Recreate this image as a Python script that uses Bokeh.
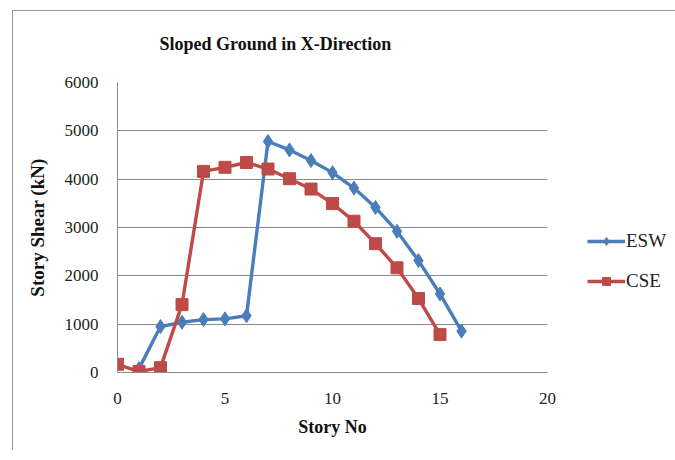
from bokeh.plotting import figure
from bokeh.models import Legend, LegendItem, Range1d, FixedTicker
from bokeh.embed import file_html
from bokeh.resources import INLINE

# ---- data ----
story_esw = list(range(1, 17))
shear_esw = [80, 950, 1040, 1095, 1110, 1175, 4780, 4605, 4385, 4135,
             3815, 3415, 2920, 2315, 1625, 855]
story_cse = list(range(0, 16))
shear_cse = [170, 20, 100, 1405, 4160, 4245, 4345, 4210, 4010, 3795,
             3495, 3130, 2665, 2165, 1530, 785]
x_ticks = [0, 5, 10, 15, 20]
y_ticks = [0, 1000, 2000, 3000, 4000, 5000, 6000]

FONT = "Liberation Serif"
BLUE = "#4A7EBB"
RED = "#BE4B48"
GRID = "#8C8C8C"

p = figure(
    width=651, height=449,
    frame_width=430, frame_height=290,
    min_border_left=105, min_border_right=116,
    min_border_top=81, min_border_bottom=78,
    x_range=Range1d(0, 20), y_range=Range1d(0, 6000),
    output_backend="svg", toolbar_location=None,
    title="Sloped Ground  in X-Direction",
)
p.margin = (1, 0, 0, 12)
# chart-area border (top and left edges), drawn behind a transparent canvas border
p.styles = {
    "background": "linear-gradient(#9a9a9a,#9a9a9a) 0 9px / 100% 1px no-repeat, "
                  "linear-gradient(#9a9a9a,#9a9a9a) 0 9px / 1px 100% no-repeat, white",
}

p.background_fill_color = "white"
p.border_fill_alpha = 0
p.outline_line_color = None

# title
p.title.text_font = FONT
p.title.text_font_style = "bold"
p.title.text_font_size = "18px"
p.title.text_color = "#111111"
p.title.align = "left"
p.title.offset = 42
p.title.standoff = 57

# axes
for ax in (p.xaxis[0], p.yaxis[0]):
    ax.major_label_text_font = FONT
    ax.major_label_text_font_size = "17px"
    ax.major_label_text_color = "#222222"
    ax.axis_label_text_font = FONT
    ax.axis_label_text_font_style = "bold"
    ax.axis_label_text_color = "#111111"
    ax.major_tick_line_color = None
    ax.minor_tick_line_color = None
    ax.axis_line_color = GRID
    ax.axis_line_width = 1

p.xaxis.ticker = FixedTicker(ticks=x_ticks)
p.yaxis.ticker = FixedTicker(ticks=y_ticks)
p.xaxis.axis_label = "Story No"
p.yaxis.axis_label = "Story Shear (kN)"
p.xaxis.axis_label_text_font_size = "18px"
p.yaxis.axis_label_text_font_size = "19px"
p.yaxis.major_label_standoff = 13
p.xaxis.major_label_standoff = 14
p.yaxis.axis_label_standoff = 14
p.xaxis.axis_label_standoff = 10

p.xgrid.grid_line_color = None
p.ygrid.grid_line_color = GRID
p.ygrid.grid_line_width = 1

# series
l1 = p.line(story_esw, shear_esw, line_color=BLUE, line_width=3.4)
m1 = p.scatter(story_esw, shear_esw, marker="diamond", size=14,
               fill_color=BLUE, line_color=BLUE)
l2 = p.line(story_cse, shear_cse, line_color=RED, line_width=3.4)
m2 = p.scatter(story_cse, shear_cse, marker="square", size=12,
               fill_color=RED, line_color=RED)

legend = Legend(
    items=[LegendItem(label="ESW", renderers=[l1, m1]),
           LegendItem(label="CSE", renderers=[l2, m2])],
    location=(40, 80),
    padding=0, margin=0, spacing=18,
    glyph_width=38, glyph_height=20, label_height=20,
    label_standoff=1,
    label_text_font=FONT, label_text_font_size="19px",
    label_text_color="#222222",
    border_line_color=None, background_fill_alpha=0,
)
p.add_layout(legend, "right")

open("out.html", "w").write(file_html(p, INLINE))
